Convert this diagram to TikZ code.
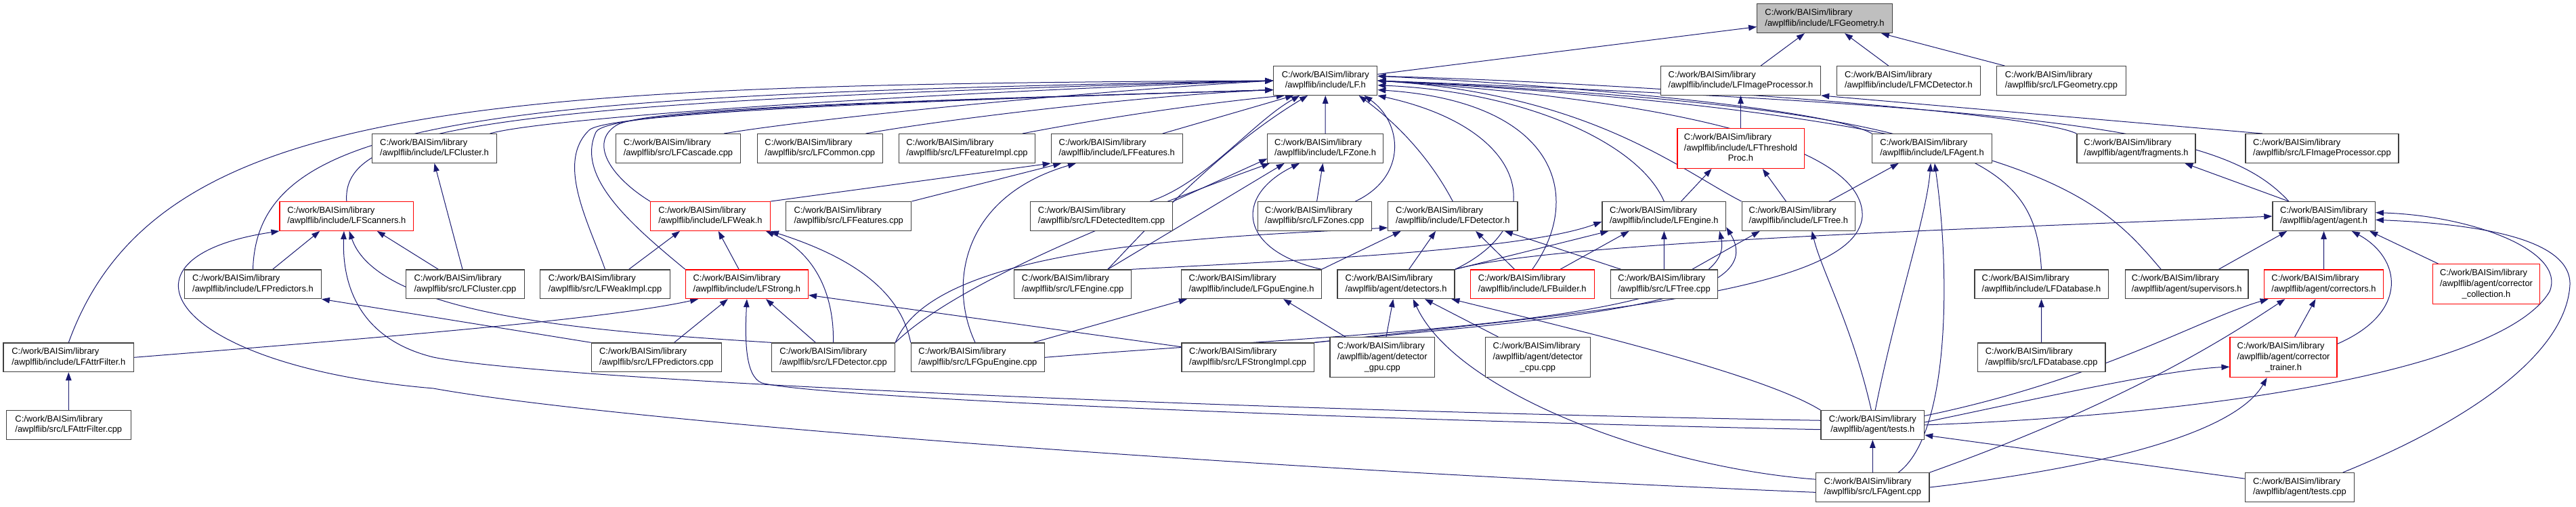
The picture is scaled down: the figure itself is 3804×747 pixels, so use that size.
\documentclass[tikz,border=0pt]{standalone}
\usepackage{fontspec}
\newfontfamily\dxfont{Liberation Sans}
\usepackage{tikz}
\usetikzlibrary{arrows.meta,backgrounds}
\definecolor{edgeblue}{HTML}{191970}
\definecolor{boxgray}{HTML}{404040}
\definecolor{selgray}{HTML}{BFBFBF}
\newcommand{\twoline}[2]{\begin{tabular}{@{}l@{}}#1\\\multicolumn{1}{@{}c@{}}{#2}\end{tabular}}
\newcommand{\threeline}[3]{\begin{tabular}{@{}l@{}}#1\\#2\\\multicolumn{1}{@{}c@{}}{#3}\end{tabular}}

\begin{document}
\begin{tikzpicture}[x=1pt, y=1pt,
    filebox/.style={draw=boxgray, line width=1.2pt, fill=white, inner xsep=3pt, inner ysep=2pt, minimum height=42.7pt, font=\dxfont\fontsize{12.9}{15.7}\selectfont},
    redbox/.style={filebox, draw=red},
    tallbox/.style={minimum height=59pt},
    arr/.style={edgeblue, line width=1pt, -{Triangle[length=12pt,width=8.5pt]}}
]
\useasboundingbox (0,0) rectangle (3804,-747);

\node[filebox, fill=selgray, minimum width=199.6pt] (geom) at (2694.5,-27.2) {\twoline{C:/work/BAISim/library}{/awplflib/include/LFGeometry.h}};

\node[filebox, minimum width=153pt] (lf) at (1957.3,-119) {\twoline{C:/work/BAISim/library}{/awplflib/include/LF.h}};
\node[filebox, minimum width=236.2pt] (imgproc) at (2570.5,-119) {\twoline{C:/work/BAISim/library}{/awplflib/include/LFImageProcessor.h}};
\node[filebox, minimum width=211.4pt] (mcdet) at (2818.4,-119) {\twoline{C:/work/BAISim/library}{/awplflib/include/LFMCDetector.h}};
\node[filebox, minimum width=190.6pt] (geomcpp) at (3043.9,-119) {\twoline{C:/work/BAISim/library}{/awplflib/src/LFGeometry.cpp}};

\node[filebox, minimum width=183.5pt] (cluster) at (641.5,-219) {\twoline{C:/work/BAISim/library}{/awplflib/include/LFCluster.h}};
\node[filebox, minimum width=184.5pt] (cascade) at (1001.5,-219) {\twoline{C:/work/BAISim/library}{/awplflib/src/LFCascade.cpp}};
\node[filebox, minimum width=185.1pt] (common) at (1210.8,-219) {\twoline{C:/work/BAISim/library}{/awplflib/src/LFCommon.cpp}};
\node[filebox, minimum width=201.3pt] (featimpl) at (1428,-219) {\twoline{C:/work/BAISim/library}{/awplflib/src/LFFeatureImpl.cpp}};
\node[filebox, minimum width=193.9pt] (features) at (1649.2,-219) {\twoline{C:/work/BAISim/library}{/awplflib/include/LFFeatures.h}};
\node[filebox, minimum width=170.4pt] (zone) at (1957,-219) {\twoline{C:/work/BAISim/library}{/awplflib/include/LFZone.h}};
\node[redbox, tallbox, minimum width=187.2pt] (thresh) at (2570.5,-219) {\threeline{C:/work/BAISim/library}{/awplflib/include/LFThreshold}{Proc.h}};
\node[filebox, minimum width=176.3pt] (agenth) at (2853,-219) {\twoline{C:/work/BAISim/library}{/awplflib/include/LFAgent.h}};
\node[filebox, minimum width=175.1pt] (fragments) at (3154.5,-219) {\twoline{C:/work/BAISim/library}{/awplflib/agent/fragments.h}};
\node[filebox, minimum width=226.1pt] (imgproccpp) at (3429,-219) {\twoline{C:/work/BAISim/library}{/awplflib/src/LFImageProcessor.cpp}};

\node[redbox, minimum width=197.6pt] (scanners) at (511.8,-319) {\twoline{C:/work/BAISim/library}{/awplflib/include/LFScanners.h}};
\node[redbox, minimum width=176.7pt] (weak) at (1049,-319) {\twoline{C:/work/BAISim/library}{/awplflib/include/LFWeak.h}};
\node[filebox, minimum width=185.1pt] (featcpp) at (1253.2,-319) {\twoline{C:/work/BAISim/library}{/awplflib/src/LFFeatures.cpp}};
\node[filebox, minimum width=210.6pt] (detitem) at (1626.5,-319) {\twoline{C:/work/BAISim/library}{/awplflib/src/LFDetectedItem.cpp}};
\node[filebox, minimum width=168pt] (zones) at (1941.1,-319) {\twoline{C:/work/BAISim/library}{/awplflib/src/LFZones.cpp}};
\node[filebox, minimum width=191.4pt] (detector) at (2145.3,-319) {\twoline{C:/work/BAISim/library}{/awplflib/include/LFDetector.h}};
\node[filebox, minimum width=182.7pt] (engine) at (2457.3,-319) {\twoline{C:/work/BAISim/library}{/awplflib/include/LFEngine.h}};
\node[filebox, minimum width=167.4pt] (tree) at (2655.9,-319) {\twoline{C:/work/BAISim/library}{/awplflib/include/LFTree.h}};
\node[filebox, minimum width=151.4pt] (agent) at (3431.6,-319) {\twoline{C:/work/BAISim/library}{/awplflib/agent/agent.h}};

\node[filebox, minimum width=201.6pt] (predictors) at (373.5,-419.3) {\twoline{C:/work/BAISim/library}{/awplflib/include/LFPredictors.h}};
\node[filebox, minimum width=174.5pt] (clustercpp) at (686.9,-419.3) {\twoline{C:/work/BAISim/library}{/awplflib/src/LFCluster.cpp}};
\node[filebox, minimum width=191.4pt] (weakimpl) at (893.5,-419.3) {\twoline{C:/work/BAISim/library}{/awplflib/src/LFWeakImpl.cpp}};
\node[redbox, minimum width=181pt] (strong) at (1102.9,-419.3) {\twoline{C:/work/BAISim/library}{/awplflib/include/LFStrong.h}};
\node[filebox, minimum width=173pt] (enginecpp) at (1584.1,-419.3) {\twoline{C:/work/BAISim/library}{/awplflib/src/LFEngine.cpp}};
\node[filebox, minimum width=206.3pt] (gpuengine) at (1848,-419.3) {\twoline{C:/work/BAISim/library}{/awplflib/include/LFGpuEngine.h}};
\node[filebox, minimum width=173.1pt] (detectors) at (2061.5,-419.3) {\twoline{C:/work/BAISim/library}{/awplflib/agent/detectors.h}};
\node[redbox, minimum width=182.9pt] (builder) at (2262.7,-419.3) {\twoline{C:/work/BAISim/library}{/awplflib/include/LFBuilder.h}};
\node[filebox, minimum width=157.7pt] (treecpp) at (2457.5,-419.3) {\twoline{C:/work/BAISim/library}{/awplflib/src/LFTree.cpp}};
\node[filebox, minimum width=197.2pt] (database) at (3014.5,-419.3) {\twoline{C:/work/BAISim/library}{/awplflib/include/LFDatabase.h}};
\node[filebox, minimum width=181.6pt] (supervisors) at (3229.2,-419.3) {\twoline{C:/work/BAISim/library}{/awplflib/agent/supervisors.h}};
\node[redbox, minimum width=175.5pt] (correctors) at (3431.5,-419.3) {\twoline{C:/work/BAISim/library}{/awplflib/agent/correctors.h}};
\node[redbox, tallbox, minimum width=157.5pt] (collection) at (3671.5,-419.2) {\threeline{C:/work/BAISim/library}{/awplflib/agent/corrector}{\_collection.h}};

\node[filebox, minimum width=192.7pt] (attrfilter) at (101.3,-527.3) {\twoline{C:/work/BAISim/library}{/awplflib/include/LFAttrFilter.h}};
\node[filebox, minimum width=192.2pt] (predcpp) at (969.4,-527.3) {\twoline{C:/work/BAISim/library}{/awplflib/src/LFPredictors.cpp}};
\node[filebox, minimum width=182.2pt] (detcpp) at (1230.5,-527.3) {\twoline{C:/work/BAISim/library}{/awplflib/src/LFDetector.cpp}};
\node[filebox, minimum width=197.1pt] (gpucpp) at (1443.9,-527.3) {\twoline{C:/work/BAISim/library}{/awplflib/src/LFGpuEngine.cpp}};
\node[filebox, minimum width=195.3pt] (strongimpl) at (1842.6,-527.3) {\twoline{C:/work/BAISim/library}{/awplflib/src/LFStrongImpl.cpp}};
\node[filebox, tallbox, minimum width=154.7pt] (detgpu) at (2041.3,-527.2) {\threeline{C:/work/BAISim/library}{/awplflib/agent/detector}{\_gpu.cpp}};
\node[filebox, tallbox, minimum width=155.1pt] (detcpu) at (2270.9,-527.2) {\threeline{C:/work/BAISim/library}{/awplflib/agent/detector}{\_cpu.cpp}};
\node[filebox, minimum width=188.6pt] (databasecpp) at (3014.7,-527.3) {\twoline{C:/work/BAISim/library}{/awplflib/src/LFDatabase.cpp}};
\node[redbox, tallbox, minimum width=158pt] (trainer) at (3372,-527.2) {\threeline{C:/work/BAISim/library}{/awplflib/agent/corrector}{\_trainer.h}};

\node[filebox, minimum width=183.7pt] (attrcpp) at (101.3,-627) {\twoline{C:/work/BAISim/library}{/awplflib/src/LFAttrFilter.cpp}};
\node[filebox, minimum width=152.6pt] (tests) at (2765.3,-627) {\twoline{C:/work/BAISim/library}{/awplflib/agent/tests.h}};

\node[filebox, minimum width=167.4pt] (agentcpp) at (2765.3,-719) {\twoline{C:/work/BAISim/library}{/awplflib/src/LFAgent.cpp}};
\node[filebox, minimum width=160.8pt] (testscpp) at (3395.9,-719) {\twoline{C:/work/BAISim/library}{/awplflib/agent/tests.cpp}};

\begin{scope}[on background layer]
\draw[arr] (lf) -- (geom);
\draw[arr] (imgproc) -- (geom);
\draw[arr] (mcdet) -- (geom);
\draw[arr] (geomcpp) -- (geom);
\draw[arr] (thresh) -- (imgproc);
\draw[arr] (imgproccpp.166) -- (imgproc.south east);

\draw[arr] (attrfilter.north) .. controls (230,-150) and (700,-125) .. (lf.west);
\draw[arr] (predictors.north) .. controls (380,-175) and (700,-140) .. (lf.west);
\draw[arr] (scanners.north) .. controls (505,-190) and (700,-150) .. (lf.west);
\draw[arr] (cluster.15) .. controls (800,-175) and (1300,-140) .. (lf.west);
\draw[arr] (weak.north west) .. controls (900,-260) and (870,-210) .. (910,-185) .. controls (950,-160) and (1300,-150) .. (lf.190);
\draw[arr] (weakimpl.north) .. controls (870,-330) and (820,-240) .. (870,-192) .. controls (895,-168) and (1300,-150) .. (lf.190);
\draw[arr] (strong.north west) .. controls (930,-330) and (850,-260) .. (880,-195) .. controls (895,-163) and (1300,-150) .. (lf.190);
\draw[arr] (cascade.18) .. controls (1200,-175) and (1600,-135) .. (lf.west);
\draw[arr] (common.18) .. controls (1400,-175) and (1700,-140) .. (lf.190);
\draw[arr] (featimpl.15) .. controls (1650,-170) and (1800,-150) .. (lf.200);
\draw[arr] (features.18) -- (lf.205);
\draw[arr] (detitem.17) .. controls (1780,-270) and (1850,-180) .. (lf.210);
\draw[arr] (enginecpp.23) .. controls (1700,-330) and (1800,-220) .. (lf.220);
\draw[arr] (zone) -- (lf);
\draw[arr] (zones.20) .. controls (2080,-260) and (2070,-180) .. (lf.-21);
\draw[arr] (detector.north) .. controls (2110,-230) and (2060,-180) .. (lf.-24);
\draw[arr] (detectors.north east) .. controls (2290,-330) and (2260,-190) .. (lf.south east);
\draw[arr] (builder.north) .. controls (2340,-290) and (2300,-150) .. (lf.-10);
\draw[arr] (engine.north) .. controls (2420,-210) and (2250,-135) .. (lf.-5);
\draw[arr] (tree.north west) .. controls (2480,-250) and (2350,-140) .. (lf.east);
\draw[arr] (agenth.north west) .. controls (2700,-160) and (2300,-125) .. (lf.5);
\draw[arr] (fragments.north west) .. controls (3000,-165) and (2400,-122) .. (lf.5);
\draw[arr] (database.north) .. controls (3005,-240) and (2920,-160) .. (lf.east);
\draw[arr] (supervisors.150) .. controls (3100,-290) and (3000,-170) .. (lf.east);
\draw[arr] (agent.157) .. controls (3290,-200) and (3100,-160) .. (lf.east);
\draw[arr] (strongimpl.north east) .. controls (2350,-460) and (2740,-430) .. (2750,-320) .. controls (2755,-220) and (2500,-150) .. (lf.east);

\draw[arr] (clustercpp.151) -- (scanners.-26);
\draw[arr] (predictors.37) -- (scanners.-151);
\draw[arr] (detcpp.north west) .. controls (900,-490) and (560,-470) .. (scanners.-80);
\draw[arr] (tests.175) .. controls (1800,-605) and (800,-560) .. (640,-527) .. controls (530,-500) and (505,-420) .. (scanners.-100);
\draw[arr] (agentcpp.185) .. controls (1800,-690) and (900,-620) .. (640,-573) .. controls (250,-540) and (150,-380) .. (scanners.south west);
\draw[arr] (clustercpp.100) -- (cluster.south);
\draw[arr] (attrcpp) -- (attrfilter);
\draw[arr] (predcpp.north west) -- (predictors.south east);

\draw[arr] (weakimpl.32) -- (weak.-154);
\draw[arr] (strong) -- (weak);
\draw[arr] (detcpp.north) .. controls (1232,-430) and (1200,-370) .. (weak.-15);
\draw[arr] (gpucpp.north west) .. controls (1330,-430) and (1260,-380) .. (weak.south east);
\draw[arr] (attrfilter.east) .. controls (600,-495) and (900,-470) .. (strong.-163);
\draw[arr] (predcpp.40) -- (strong.-142);
\draw[arr] (detcpp.140) -- (strong.-38);
\draw[arr] (strongimpl.171) -- (strong.-10);
\draw[arr] (tests.185) .. controls (1900,-617) and (1200,-585) .. (1125,-565) .. controls (1100,-555) and (1100,-500) .. (strong.south);

\draw[arr] (featcpp.north east) -- (features.195);
\draw[arr] (weak.north east) -- (features.south west);
\draw[arr] (gpucpp.100) .. controls (1400,-420) and (1420,-290) .. (features.-160);
\draw[arr] (zones) -- (zone);
\draw[arr] (detitem.north east) -- (zone.-170);
\draw[arr] (enginecpp.23) -- (zone.-160);
\draw[arr] (detcpp.north east) .. controls (1400,-430) and (1600,-340) .. (zone.-165);
\draw[arr] (gpuengine.north east) .. controls (1830,-370) and (1820,-290) .. (zone.-150);

\draw[arr] (gpuengine.north east) -- (detector.-164);
\draw[arr] (detectors.49) -- (detector.-139);
\draw[arr] (builder.140) -- (detector.-33);
\draw[arr] (treecpp.161) -- (detector.-16);
\draw[arr] (detcpp.north east) .. controls (1380,-360) and (1800,-350) .. (detector.-170);
\draw[arr] (treecpp) -- (engine);
\draw[arr] (builder.28) -- (engine.-157);
\draw[arr] (detectors.north east) -- (engine.-165);
\draw[arr] (enginecpp.north east) .. controls (1900,-385) and (2250,-370) .. (engine.185);
\draw[arr] (gpucpp.east) .. controls (2000,-490) and (2570,-480) .. (engine.-15);
\draw[arr] (strongimpl.north east) .. controls (2300,-470) and (2620,-450) .. (engine.-10);

\draw[arr] (engine.41) -- (thresh.-145);
\draw[arr] (tree.130) -- (thresh.-43);
\draw[arr] (tree.26) -- (agenth.-156);
\draw[arr] (treecpp.28) -- (tree.-159);
\draw[arr] (tests.95) .. controls (2735,-480) and (2690,-400) .. (tree.-48);
\draw[arr] (tests.80) .. controls (2800,-450) and (2845,-320) .. (agenth.-95);
\draw[arr] (agentcpp.30) .. controls (2880,-640) and (2880,-400) .. (agenth.-80);

\draw[arr] (agentcpp) -- (tests);
\draw[arr] (testscpp.171) -- (tests.-11);
\draw[arr] (testscpp.19) .. controls (3650,-620) and (3790,-520) .. (3795,-420) .. controls (3797,-350) and (3650,-330) .. (agent.-4);
\draw[arr] (tests.east) .. controls (3300,-610) and (3700,-540) .. (3765,-430) .. controls (3790,-370) and (3650,-318) .. (agent.4);
\draw[arr] (supervisors.25) -- (agent.-158);
\draw[arr] (correctors) -- (agent);
\draw[arr] (trainer.14) .. controls (3560,-460) and (3545,-380) .. (agent.-28);
\draw[arr] (collection.157) -- (agent.-18);
\draw[arr] (detectors.north east) .. controls (2300,-355) and (3000,-335) .. (agent.west);
\draw[arr] (agent.157) -- (fragments.-17);

\draw[arr] (detgpu) -- (detectors);
\draw[arr] (detcpu) -- (detectors);
\draw[arr] (agentcpp.172) .. controls (2450,-690) and (2150,-580) .. (detectors.-41);
\draw[arr] (tests.north west) .. controls (2600,-550) and (2300,-480) .. (detectors.-15);
\draw[arr] (gpucpp.15) -- (gpuengine.-167);
\draw[arr] (detgpu.151) -- (gpuengine.-25);
\draw[arr] (agentcpp.north east) .. controls (3150,-590) and (3300,-490) .. (correctors.-159);
\draw[arr] (tests.10) .. controls (3100,-560) and (3250,-470) .. (correctors.-165);
\draw[arr] (tests.3) .. controls (3000,-590) and (3200,-545) .. (trainer.190);
\draw[arr] (agentcpp.east) .. controls (3100,-690) and (3300,-640) .. (trainer.-129);
\draw[arr] (trainer) -- (correctors);
\draw[arr] (databasecpp) -- (database);
\end{scope}
\end{tikzpicture}
\end{document}
